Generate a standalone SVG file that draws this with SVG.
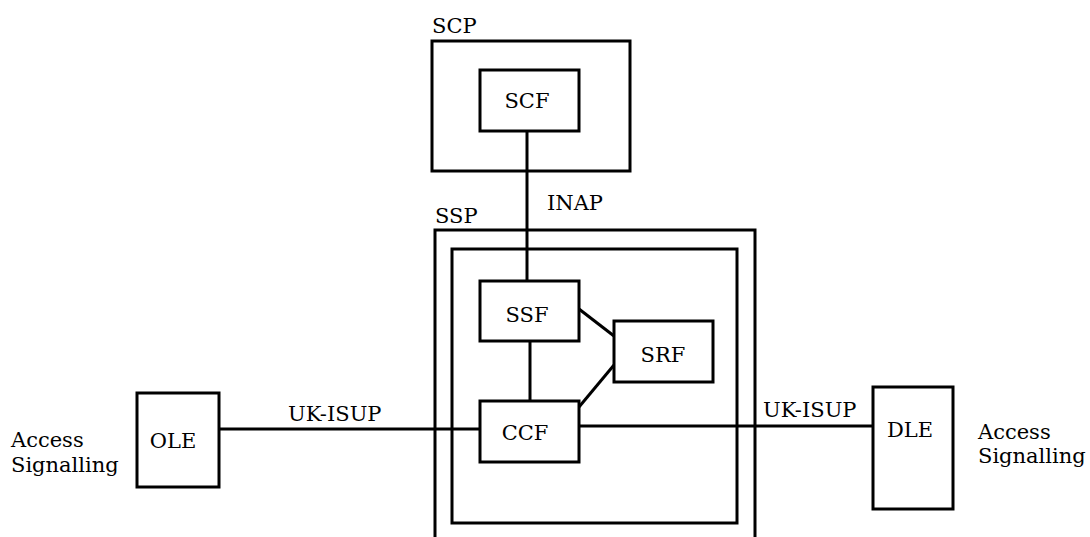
<svg xmlns="http://www.w3.org/2000/svg" width="1090" height="537" viewBox="0 0 1090 537">
<style>
.b{fill:none;stroke:#000;stroke-width:3}
.l{fill:none;stroke:#000;stroke-width:3}
text{font-family:"DejaVu Serif","Liberation Serif",serif;font-size:21px;fill:#000}
.m{text-anchor:middle}
</style>
<rect width="1090" height="537" fill="#fff"/>
<g id="SCP">
<rect class="b" x="432" y="41" width="198" height="130"/>
<text x="432" y="33">SCP</text>
</g>
<g id="SCF">
<rect class="b" x="480" y="70" width="99" height="61"/>
<text class="m" x="527" y="108">SCF</text>
</g>
<g id="SSP">
<path class="b" d="M435 540 V230 H755 V540"/>
<text x="435" y="223">SSP</text>
</g>
<g id="SSP-inner">
<rect class="b" x="452" y="249" width="285" height="274"/>
</g>
<g id="SSF">
<rect class="b" x="480" y="281" width="99" height="60"/>
<text class="m" x="527" y="322">SSF</text>
</g>
<g id="SRF">
<rect class="b" x="614" y="321" width="99" height="61"/>
<text class="m" x="663" y="362">SRF</text>
</g>
<g id="CCF">
<rect class="b" x="480" y="401" width="99" height="61"/>
<text class="m" x="525" y="440">CCF</text>
</g>
<g id="OLE">
<rect class="b" x="137" y="393" width="82" height="94"/>
<text class="m" x="173" y="448">OLE</text>
</g>
<g id="DLE">
<rect class="b" x="873" y="387" width="80" height="122"/>
<text class="m" x="910" y="437">DLE</text>
</g>
<g id="connectors">
<line class="l" x1="527" y1="131" x2="527" y2="281"/>
<line class="l" x1="530" y1="341" x2="530" y2="401"/>
<line class="l" x1="579" y1="309" x2="614" y2="336"/>
<line class="l" x1="579" y1="407" x2="614" y2="365"/>
<line class="l" x1="219" y1="429" x2="480" y2="429"/>
<line class="l" x1="579" y1="426" x2="873" y2="426"/>
</g>
<g id="labels">
<text x="547" y="210">INAP</text>
<text x="288" y="421">UK-ISUP</text>
<text x="763" y="417">UK-ISUP</text>
<text x="11" y="447">Access</text>
<text x="11" y="472">Signalling</text>
<text x="978" y="439">Access</text>
<text x="978" y="463">Signalling</text>
</g>
</svg>
